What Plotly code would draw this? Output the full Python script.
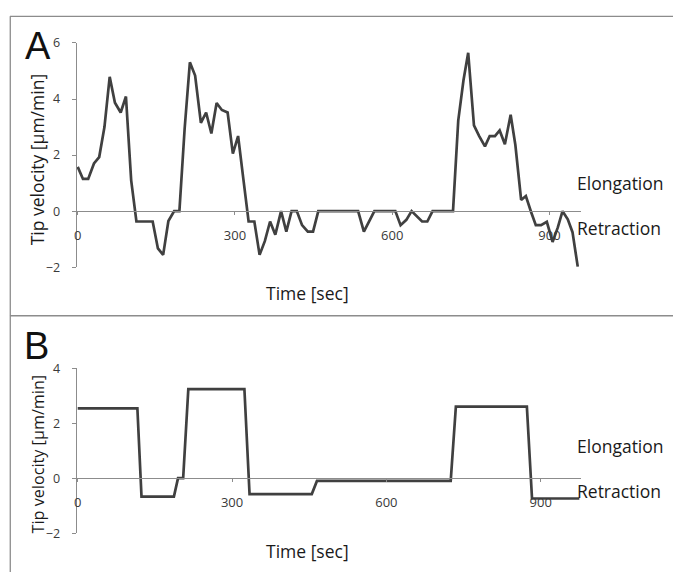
import plotly.graph_objects as go

# ---------------- data ----------------
time_a = [0, 10, 20, 31, 41, 51, 61, 71, 82, 92, 102, 112, 122, 133, 143, 153, 163, 173,
          184, 194, 204, 214, 224, 235, 245, 255, 265, 275, 286, 296, 306, 316, 326, 337,
          347, 357, 367, 377, 388, 398, 408, 418, 428, 439, 449, 459, 535, 546, 566, 606,
          616, 627, 637, 657, 667, 677, 716, 726, 736, 745, 756, 766, 777, 786, 796, 805,
          815, 826, 835, 846, 855, 865, 874, 884, 895, 906, 916, 925, 935, 944, 954]
velocity_a = [1.58, 1.15, 1.15, 1.70, 1.93, 3.00, 4.79, 3.87, 3.52, 4.09, 1.10, -0.37, -0.37,
              -0.37, -0.37, -1.33, -1.56, -0.35, 0, 0, 2.94, 5.31, 4.84, 3.15, 3.52, 2.77,
              3.86, 3.61, 3.52, 2.05, 2.68, 1.15, -0.37, -0.37, -1.56, -1.07, -0.37, -0.84,
              0, -0.73, 0, 0, -0.50, -0.73, -0.73, 0, 0, -0.73, 0, 0, -0.50, -0.31, 0, -0.37,
              -0.37, 0, 0, 3.23, 4.67, 5.65, 3.06, 2.68, 2.31, 2.68, 2.68, 2.88, 2.39, 3.44,
              2.36, 0.40, 0.54, -0.03, -0.50, -0.50, -0.38, -1.10, -0.58, 0, -0.29, -0.75, -1.98]

time_b = [0, 116, 124, 187, 195, 205, 215, 324, 334, 455, 465, 725, 735, 873, 883, 975]
velocity_b = [2.54, 2.54, -0.67, -0.67, 0, 0, 3.24, 3.24, -0.58, -0.58, -0.10, -0.10,
              2.60, 2.60, -0.74, -0.74]

x_ticks = [0, 300, 600, 900]
y_ticks_a = [-2, 0, 2, 4, 6]
y_ticks_b = [-2, 0, 2, 4]
panel_labels = ["A", "B"]
x_title = "Time [sec]"
y_title = "Tip velocity [µm/min]"
state_labels = ["Elongation", "Retraction"]

# ---------------- layout helpers ----------------
W, H = 673, 580
def px(x):
    return x / W
def py(y):
    return 1 - y / H

LINE = "#404040"
AXIS = "#8c8c8c"
TXT = "#1a1a1a"
XTICKF = dict(family="Open Sans", size=13, color="#3a3a3a")
YTICKF = dict(family="Open Sans", size=12.5, color="#3a3a3a")

fig = go.Figure()
fig.add_trace(go.Scatter(x=time_a, y=velocity_a, mode="lines",
                         line=dict(color=LINE, width=2.7), xaxis="x", yaxis="y",
                         showlegend=False, hoverinfo="skip"))
fig.add_trace(go.Scatter(x=time_b, y=velocity_b, mode="lines",
                         line=dict(color=LINE, width=2.7), xaxis="x2", yaxis="y2",
                         showlegend=False, hoverinfo="skip"))

xdom = [px(74), px(581)]
ydom_a = [py(266), py(35)]
ydom_b = [py(540), py(370)]

def xaxis_cfg(rng, pos):
    return dict(domain=xdom, range=rng, anchor="free", position=pos,
                showline=True, linecolor=AXIS, linewidth=1, showgrid=False,
                zeroline=False, ticks="outside", ticklen=3, tickcolor=AXIS,
                tickvals=x_ticks, tickfont=XTICKF, ticklabelstandoff=9,
                fixedrange=True)

def yaxis_cfg(dom, rng, vals, anchor):
    return dict(domain=dom, range=rng, anchor=anchor, showline=True, linecolor=AXIS,
                linewidth=1, showgrid=False, zeroline=False, ticks="outside",
                ticklen=4, tickcolor=AXIS, tickvals=vals, tickfont=YTICKF,
                ticklabelstandoff=9, fixedrange=True)

fig.update_layout(
    width=W, height=H, margin=dict(l=0, r=0, t=0, b=0),
    paper_bgcolor="white", plot_bgcolor="white",
    font=dict(family="Open Sans", color=TXT),
    xaxis=xaxis_cfg([-2, 961], py(266 - 2 / 8 * 231)),
    yaxis=yaxis_cfg(ydom_a, [-2, 6], y_ticks_a, "x"),
    xaxis2=xaxis_cfg([-2, 979], py(540 - 2 / 6 * 170)),
    yaxis2=yaxis_cfg(ydom_b, [-2, 4], y_ticks_b, "x2"),
)

# panel frame lines
frame = dict(type="line", xref="paper", yref="paper", line=dict(color="#8c8c8c", width=1.3))
fig.add_shape(**frame, x0=px(7), x1=1, y0=py(7.5), y1=py(7.5))
fig.add_shape(**frame, x0=px(7), x1=1, y0=py(316), y1=py(316))
fig.add_shape(**frame, x0=px(7.3), x1=px(7.3), y0=py(7.5), y1=0)

ann_font = dict(family="Open Sans", size=17.5, color=TXT)
panels = [
    dict(ty=155, tsize=17.5, yc=293, el_y=179, re_y=225.7),
    dict(ty=458, tsize=16.2, yc=558, el_y=450, re_y=496.7),
]
for p in panels:
    fig.add_annotation(xref="paper", yref="paper", x=px(35), y=py(p["ty"]), text=y_title,
                       textangle=-90, showarrow=False,
                       font=dict(family="Open Sans", size=p["tsize"], color=TXT),
                       xanchor="center", yanchor="middle")
    fig.add_annotation(xref="paper", yref="paper", x=px(306), y=py(p["yc"]), text=x_title,
                       showarrow=False, font=ann_font, xanchor="center", yanchor="middle")
    fig.add_annotation(xref="paper", yref="paper", x=px(575), y=py(p["el_y"]),
                       text=state_labels[0], showarrow=False, font=ann_font,
                       xanchor="left", yanchor="middle")
    fig.add_annotation(xref="paper", yref="paper", x=px(575), y=py(p["re_y"]),
                       text=state_labels[1], showarrow=False, font=ann_font,
                       xanchor="left", yanchor="middle")

for lab, xc, yc in [(panel_labels[0], 35.5, 38.5), (panel_labels[1], 33.5, 347.5)]:
    fig.add_annotation(xref="paper", yref="paper", x=px(xc), y=py(yc), text=lab,
                       showarrow=False, xanchor="center", yanchor="middle",
                       font=dict(family="Liberation Sans", size=38, color="#111111"))

fig.write_html("out.html", config={"displayModeBar": False},
               post_script="document.body.style.margin='0';document.body.style.overflow='hidden';")
